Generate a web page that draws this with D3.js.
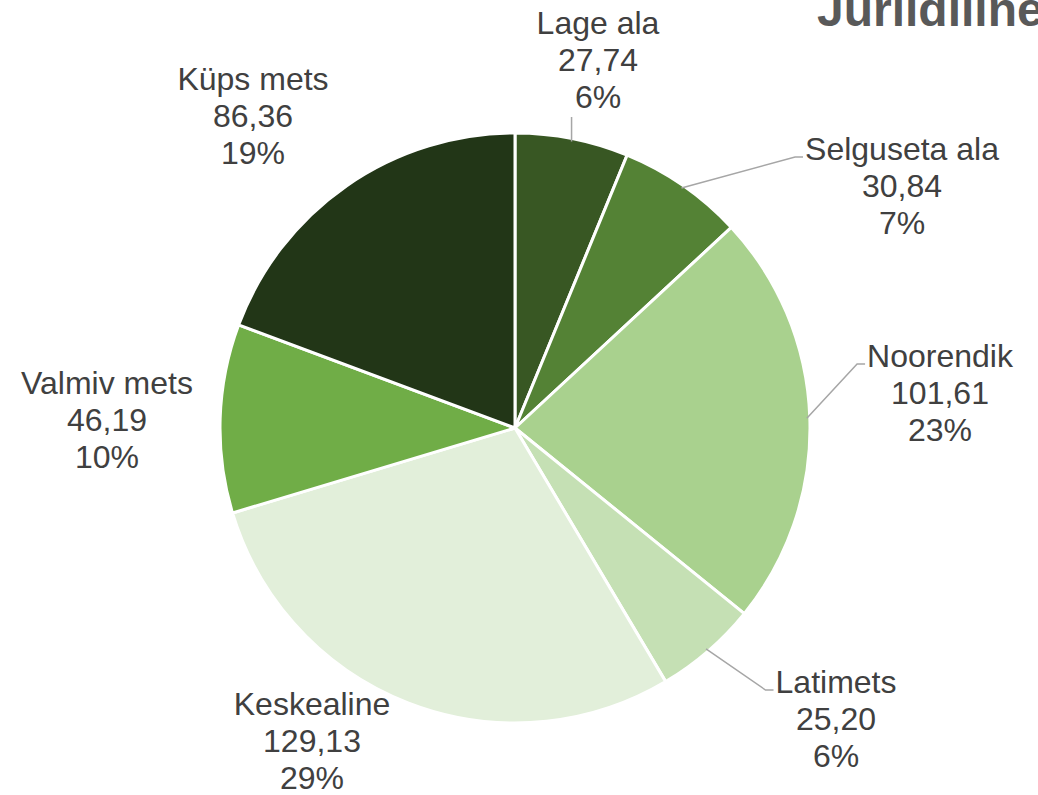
<!DOCTYPE html>
<html>
<head>
<meta charset="utf-8">
<script src="https://cdn.jsdelivr.net/npm/d3@7"></script>
<style>
  body { margin: 0; background: #fff; overflow: hidden; }
  text { font-family: "Liberation Sans", Arial, sans-serif; }
</style>
</head>
<body>
<div id="chart"></div>
<script>
// slice data, clockwise from 12 o'clock
const categories = ["Lage ala", "Selguseta ala", "Noorendik", "Latimets", "Keskealine", "Valmiv mets", "Küps mets"];
const values = [27.74, 30.84, 101.61, 25.20, 129.13, 46.19, 86.36];
const percentLabels = ["6%", "7%", "23%", "6%", "29%", "10%", "19%"];
const colors = ["#385723", "#548235", "#a9d18e", "#c5e0b4", "#e2efda", "#70ad47", "#223617"];
const titleText = "Juriidiline";

// label placement (offset of first baseline from pie centre) and leader style
const labelLayout = [
  { dx: 83, dy: -394, leader: "below" },
  { dx: 387, dy: -268, leader: "side" },
  { dx: 425, dy: -61, leader: "side" },
  { dx: 321, dy: 265, leader: "side" },
  { dx: -203, dy: 287, leader: null },
  { dx: -408, dy: -34, leader: null },
  { dx: -262, dy: -338, leader: null }
];

const width = 1038, height = 795;
const cx = 515, cy = 428, radius = 295;
const lineGap = 37;

const svg = d3.select("#chart")
  .append("svg")
  .attr("width", width)
  .attr("height", height);

const data = categories.map((c, i) => ({ name: c, value: values[i], pct: percentLabels[i], color: colors[i], layout: labelLayout[i] }));

const pie = d3.pie().sort(null).value(d => d.value);
const arc = d3.arc().innerRadius(0).outerRadius(radius);
const arcs = pie(data);

const g = svg.append("g").attr("transform", `translate(${cx},${cy})`);

g.selectAll("path.slice")
  .data(arcs)
  .join("path")
  .attr("class", "slice")
  .attr("d", arc)
  .attr("fill", d => d.data.color)
  .attr("stroke", "#fff")
  .attr("stroke-width", 3)
  .attr("stroke-linejoin", "round");

const fmt = v => v.toFixed(2).replace(".", ",");

const labels = g.selectAll("text.lbl")
  .data(arcs)
  .join("text")
  .attr("class", "lbl")
  .attr("text-anchor", "middle")
  .attr("font-size", 32)
  .attr("fill", "#404040")
  .attr("x", d => d.data.layout.dx)
  .attr("y", d => d.data.layout.dy);

labels.each(function(d) {
  const t = d3.select(this);
  [d.data.name, fmt(d.data.value), d.data.pct].forEach((s, k) => {
    t.append("tspan")
      .attr("x", d.data.layout.dx)
      .attr("dy", k === 0 ? 0 : lineGap)
      .text(s);
  });
});

// leader lines
const leaderGroup = g.insert("g", "text.lbl");
labels.each(function(d) {
  const lay = d.data.layout;
  if (!lay.leader) return;
  const bb = this.getBBox();
  const mid = (d.startAngle + d.endAngle) / 2;
  const r0 = radius - 3;
  const sx = Math.sin(mid) * r0, sy = -Math.cos(mid) * r0;
  let pts;
  if (lay.leader === "below") {
    pts = [[sx, sy], [sx, bb.y + bb.height + 2]];
  } else {
    const ey = lay.dy - 3;
    pts = [[sx, sy], [bb.x - 10, ey], [bb.x - 2, ey]];
  }
  leaderGroup.append("path")
    .attr("d", d3.line()(pts))
    .attr("fill", "none")
    .attr("stroke", "#a6a6a6")
    .attr("stroke-width", 1.5);
});

// title (runs off the top and right edges, as in the source picture)
svg.append("text")
  .attr("x", 817)
  .attr("y", 26)
  .attr("font-size", 48)
  .attr("font-weight", "bold")
  .attr("fill", "#595959")
  .text(titleText);
</script>
</body>
</html>
